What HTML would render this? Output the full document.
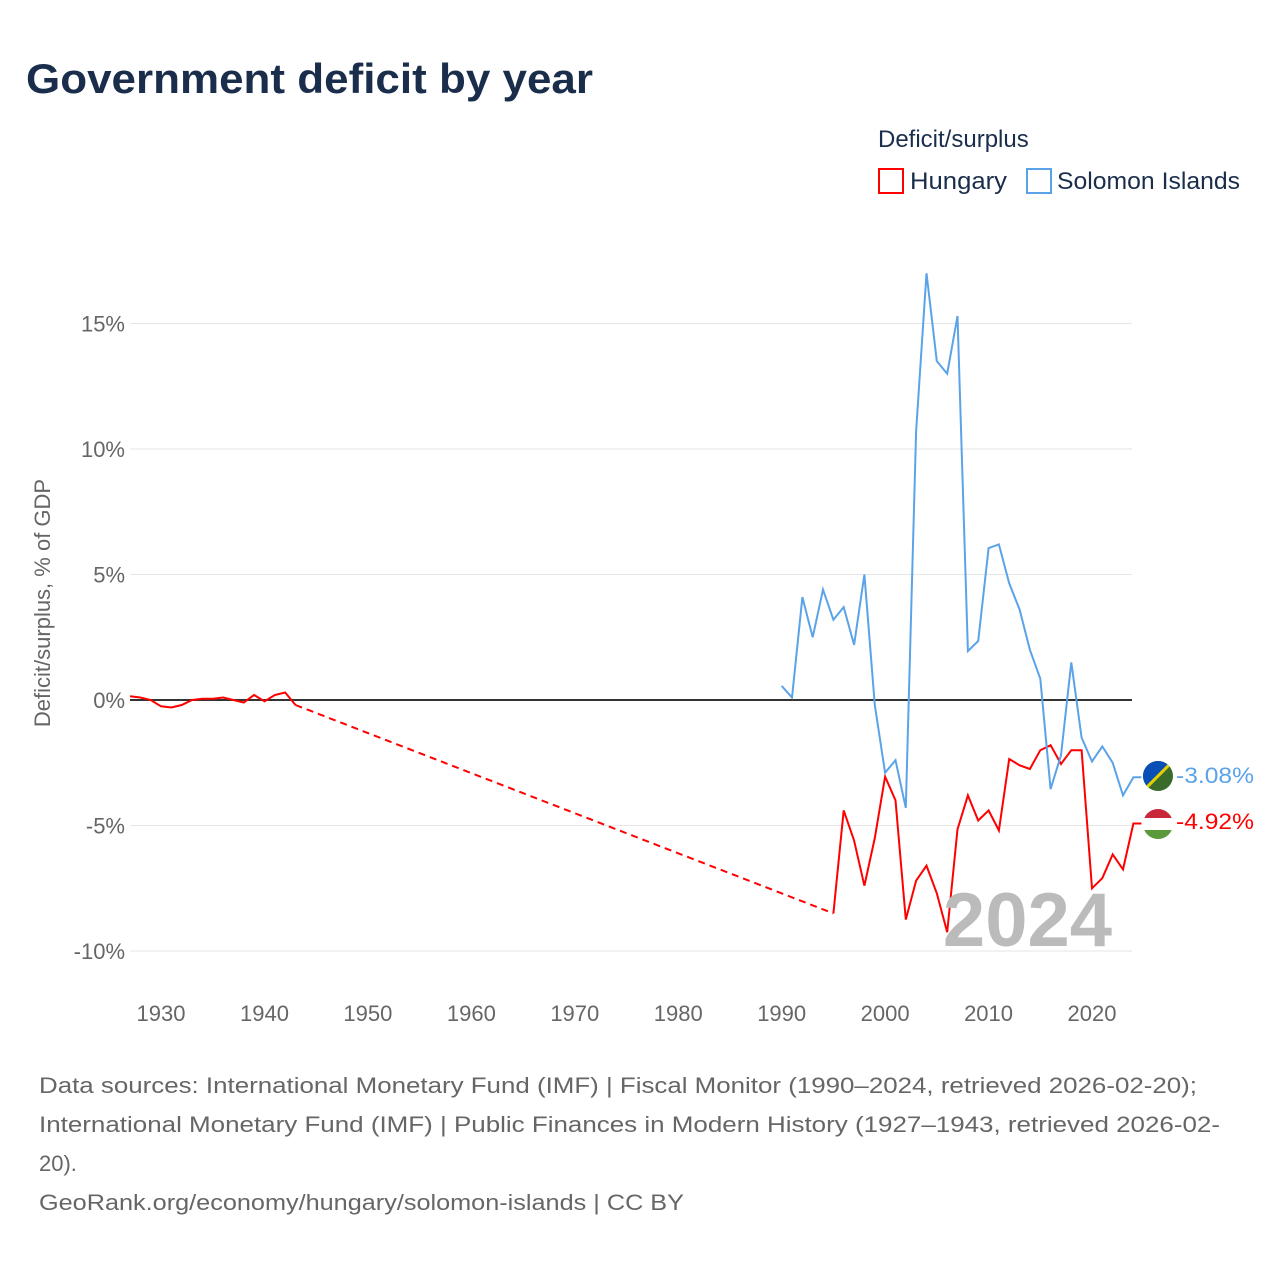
<!DOCTYPE html>
<html><head><meta charset="utf-8"><style>
body{margin:0;background:#fff;font-family:"Liberation Sans",sans-serif}
svg text{font-family:"Liberation Sans",sans-serif}
</style></head><body>
<svg width="1280" height="1280" xmlns="http://www.w3.org/2000/svg">
<text x="26" y="93" font-size="42" font-weight="bold" fill="#1a2e4c" textLength="567" lengthAdjust="spacingAndGlyphs">Government deficit by year</text>
<text x="878" y="147" font-size="24" fill="#1a2e4c">Deficit/surplus</text>
<g><rect x="879" y="169" width="24" height="24" fill="none" stroke="#f00" stroke-width="2"/><text x="910" y="189" font-size="24" fill="#1a2e4c" textLength="97" lengthAdjust="spacingAndGlyphs">Hungary</text></g>
<g><rect x="1027" y="169" width="24" height="24" fill="none" stroke="#5ba3e8" stroke-width="2"/><text x="1057" y="189" font-size="24" fill="#1a2e4c" textLength="183" lengthAdjust="spacingAndGlyphs">Solomon Islands</text></g>
<text transform="translate(50,603) rotate(-90)" text-anchor="middle" font-size="22" fill="#666">Deficit/surplus, % of GDP</text>
<g id="grid"></g><g id="series"></g>
<text x="1112" y="946" text-anchor="end" font-size="76" font-weight="bold" fill="#bbb">2024</text>
<g><clipPath id="c1"><circle cx="1158" cy="776" r="15"/></clipPath><g clip-path="url(#c1)"><rect x="1140" y="758" width="36" height="36" fill="#3a6b2a"/><polygon points="1140,758 1176,758 1140,794" fill="#0a4fb5"/><line x1="1140" y1="794" x2="1176" y2="758" stroke="#e8d000" stroke-width="3"/></g></g>
<g><clipPath id="c2"><circle cx="1158" cy="824" r="15"/></clipPath><g clip-path="url(#c2)"><rect x="1140" y="806" width="36" height="12" fill="#c8283a"/><rect x="1140" y="818" width="36" height="12" fill="#fff"/><rect x="1140" y="830" width="36" height="12" fill="#5a9a3a"/></g></g>
<text x="1176" y="783" font-size="22" fill="#5ba3e8" textLength="78" lengthAdjust="spacingAndGlyphs">-3.08%</text>
<text x="1176" y="829" font-size="22" fill="#f00" textLength="78" lengthAdjust="spacingAndGlyphs">-4.92%</text>
<g font-size="22" fill="#666">
<text x="39" y="1093" textLength="1158" lengthAdjust="spacingAndGlyphs">Data sources: International Monetary Fund (IMF) | Fiscal Monitor (1990–2024, retrieved 2026-02-20);</text>
<text x="39" y="1132" textLength="1181" lengthAdjust="spacingAndGlyphs">International Monetary Fund (IMF) | Public Finances in Modern History (1927–1943, retrieved 2026-02-</text>
<text x="39" y="1171">20).</text>
<text x="39" y="1210" textLength="645" lengthAdjust="spacingAndGlyphs">GeoRank.org/economy/hungary/solomon-islands | CC BY</text>
</g>
</svg>
<script>
const yTicks=[-10,-5,0,5,10,15];
const xTicks=[1930,1940,1950,1960,1970,1980,1990,2000,2010,2020];
const solYears=[1990,1991,1992,1993,1994,1995,1996,1997,1998,1999,2000,2001,2002,2003,2004,2005,2006,2007,2008,2009,2010,2011,2012,2013,2014,2015,2016,2017,2018,2019,2020,2021,2022,2023,2024];
const solValues=[0.56,0.1,4.1,2.5,4.4,3.2,3.7,2.2,5.0,-0.2,-2.9,-2.4,-4.3,10.7,17.0,13.5,13.0,15.3,1.95,2.35,6.05,6.2,4.65,3.6,2.0,0.85,-3.55,-2.2,1.5,-1.5,-2.45,-1.85,-2.5,-3.8,-3.08];
const hunEarlyYears=[1927,1928,1929,1930,1931,1932,1933,1934,1935,1936,1937,1938,1939,1940,1941,1942,1943];
const hunEarlyValues=[0.15,0.1,0.0,-0.25,-0.3,-0.2,0.0,0.05,0.05,0.1,0.0,-0.1,0.2,-0.05,0.2,0.3,-0.2];
const hunYears=[1995,1996,1997,1998,1999,2000,2001,2002,2003,2004,2005,2006,2007,2008,2009,2010,2011,2012,2013,2014,2015,2016,2017,2018,2019,2020,2021,2022,2023,2024];
const hunValues=[-8.5,-4.4,-5.6,-7.4,-5.5,-3.05,-4.0,-8.75,-7.2,-6.6,-7.7,-9.25,-5.15,-3.8,-4.8,-4.4,-5.2,-2.35,-2.6,-2.75,-2.0,-1.8,-2.55,-2.0,-2.0,-7.5,-7.1,-6.15,-6.75,-4.92];
const NS="http://www.w3.org/2000/svg";
const X=y=>130+(y-1927)*10.344;
const Y=v=>700-v*25.1;
const grid=document.getElementById('grid'),ser=document.getElementById('series');
function mk(tag,attrs,parent){const e=document.createElementNS(NS,tag);for(const k in attrs)e.setAttribute(k,attrs[k]);parent.appendChild(e);return e;}
yTicks.forEach(t=>{
  const l=mk('line',{x1:130,x2:1132,y1:Y(t),y2:Y(t),stroke:t===0?'#333':'#e6e6e6','stroke-width':t===0?2:1},grid);
  
  
  const tx=mk('text',{x:125,y:Y(t)+8,'text-anchor':'end','font-size':22,fill:'#666'},grid);
  tx.textContent=t+'%';
  
  
});
xTicks.forEach(t=>{
  const tx=mk('text',{x:X(t),y:1021,'text-anchor':'middle','font-size':22,fill:'#666'},grid);
  tx.textContent=t;
  
  
});
function path(xs,vs){return xs.map((y,i)=>(i?'L':'M')+X(y).toFixed(1)+','+Y(vs[i]).toFixed(1)).join('');}
const p1=mk('path',{d:path(hunEarlyYears,hunEarlyValues),fill:'none',stroke:'#f00','stroke-width':2},ser);


const gy=[hunEarlyYears[hunEarlyYears.length-1],hunYears[0]],gv=[hunEarlyValues[hunEarlyValues.length-1],hunValues[0]];
const p2=mk('path',{d:path(gy,gv),fill:'none',stroke:'#f00','stroke-width':2,'stroke-dasharray':'7,5'},ser);


const p3=mk('path',{d:path(hunYears,hunValues)+'h8',fill:'none',stroke:'#f00','stroke-width':2},ser);


const p4=mk('path',{d:path(solYears,solValues)+'h8',fill:'none',stroke:'#5ba3e8','stroke-width':2},ser);


</script>
</body></html>
